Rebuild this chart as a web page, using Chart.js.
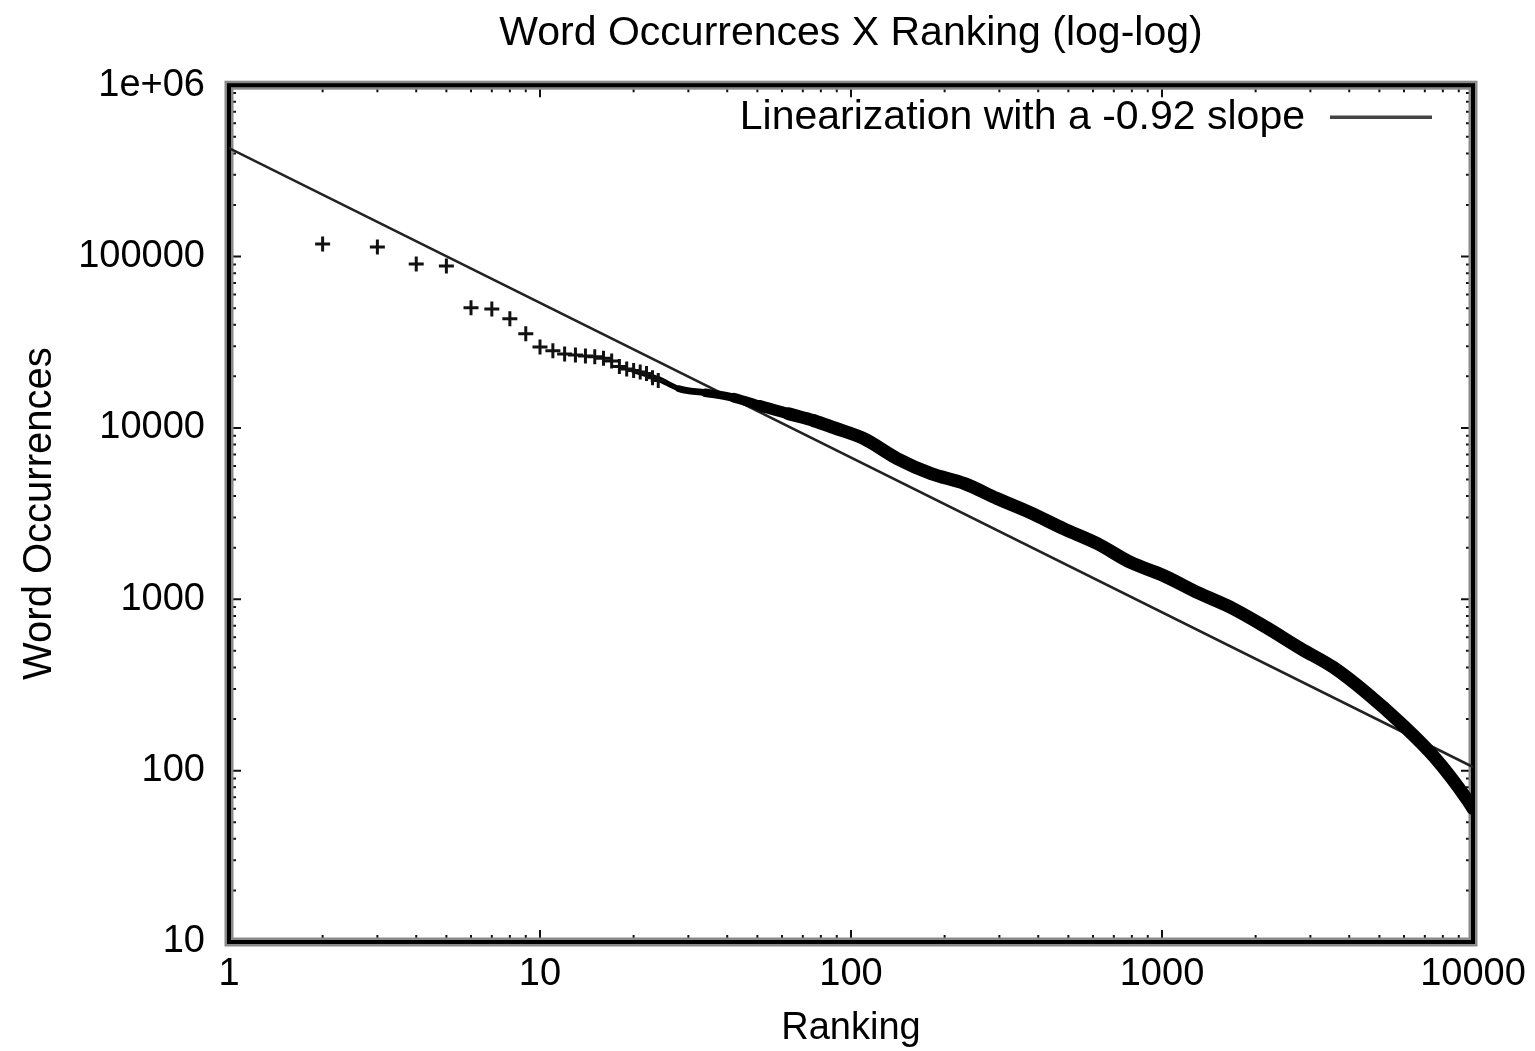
<!DOCTYPE html>
<html><head><meta charset="utf-8">
<script src="https://cdn.jsdelivr.net/npm/chart.js@4/dist/chart.umd.min.js"></script>
<style>html,body{margin:0;padding:0;background:#fff}#wrap{width:1535px;height:1051px;position:relative}canvas{display:block}</style>
</head><body><div id="wrap"><canvas id="c" width="1535" height="1051" style="width:1535px;height:1051px"></canvas></div>
<script>
const chartTitle = 'Word Occurrences X Ranking (log-log)';
const xAxisTitle = 'Ranking';
const yAxisTitle = 'Word Occurrences';
const fitLabel = 'Linearization with a -0.92 slope';

const xTickValues = [1, 10, 100, 1000, 10000];
const xTickLabels = ['1', '10', '100', '1000', '10000'];
const yTickValues = [10, 100, 1000, 10000, 100000, 1000000];
const yTickLabels = ['10', '100', '1000', '10000', '100000', '1e+06'];

// top-ranked words, drawn as individual "+" marks
const topRanks = [2, 3, 4, 5, 6, 7, 8, 9, 10, 11, 12, 13, 14, 15, 16, 17, 18, 19, 20, 21, 22, 23, 24];
const topOccurrences = [118400, 113700, 90600, 88200, 50200, 49500, 43300, 35400, 29700, 28200, 27000, 26600, 26300, 26000, 25500, 24600, 22800, 22100, 21600, 21200, 20800, 19600, 18900];

// dense tail where the "+" marks merge into a thick band
const bandRanks = [20, 24, 28, 34, 42, 51, 63, 76, 88, 110, 141, 181, 232, 295, 377, 482, 619, 793, 1010, 1320, 1690, 2165, 2785, 3560, 4570, 5860, 7510, 9620, 10000];
const bandOccurrences = [21540, 19350, 16920, 16040, 15000, 13470, 12100, 11020, 10030, 8650, 6615, 5410, 4730, 3870, 3205, 2585, 2115, 1640, 1376, 1081, 884, 685, 517, 400, 282, 189, 120, 67, 60];

// fitted straight line (log-log)
const fitRanks = [1, 10000];
const fitOccurrences = [430000, 105];

const FONT = "'Liberation Sans', Arial, Helvetica, sans-serif";

const toPts = (xs, ys) => xs.map((x, i) => ({x: x, y: ys[i]}));

const framePlugin = {
  id: 'gnuFrame',
  beforeDatasetsDraw(chart) {
    const {ctx, chartArea: a, scales} = chart;
    const xs = scales.x, ys = scales.y;
    ctx.save();
    ctx.strokeStyle = '#111';
    ctx.lineWidth = 2;
    ctx.beginPath();
    for (let d = 1; d <= 10000; d *= 10) {
      for (let m = 1; m <= 9; m++) {
        const v = d * m;
        if (v > 10000) break;
        const len = m === 1 ? 12 : 7;
        const px = xs.getPixelForValue(v);
        ctx.moveTo(px, a.bottom); ctx.lineTo(px, a.bottom - len);
        ctx.moveTo(px, a.top); ctx.lineTo(px, a.top + len);
      }
    }
    for (let d = 10; d <= 1000000; d *= 10) {
      for (let m = 1; m <= 9; m++) {
        const v = d * m;
        if (v > 1000000) break;
        const len = m === 1 ? 12 : 7;
        const py = ys.getPixelForValue(v);
        ctx.moveTo(a.left, py); ctx.lineTo(a.left + len, py);
        ctx.moveTo(a.right, py); ctx.lineTo(a.right - len, py);
      }
    }
    ctx.stroke();
    ctx.strokeStyle = '#8a8a8a';
    ctx.lineWidth = 9;
    ctx.strokeRect(a.left, a.top, a.right - a.left, a.bottom - a.top);
    ctx.strokeStyle = '#000';
    ctx.lineWidth = 4;
    ctx.strokeRect(a.left, a.top, a.right - a.left, a.bottom - a.top);
    ctx.restore();
  },
  afterDatasetsDraw(chart) {
    const {ctx, chartArea: a} = chart;
    const ds = chart.data.datasets[2];
    ctx.save();
    ctx.font = '41px ' + FONT;
    ctx.fillStyle = '#000';
    ctx.textAlign = 'right';
    ctx.textBaseline = 'middle';
    const y = a.top + 32;
    ctx.fillText(ds.label, a.right - 168, y);
    ctx.strokeStyle = '#444';
    ctx.lineWidth = 3.5;
    ctx.beginPath();
    ctx.moveTo(a.right - 143, y);
    ctx.lineTo(a.right - 41, y);
    ctx.stroke();
    ctx.restore();
  }
};

const bandWidth = c => {
  const lx = Math.log10((c.p0.parsed.x + c.p1.parsed.x) / 2);
  return Math.min(13, Math.max(5, 5 + 17 * (lx - 1.38)));
};

new Chart(document.getElementById('c'), {
  type: 'line',
  data: {
    datasets: [
      {
        label: 'Top ranks',
        data: toPts(topRanks, topOccurrences),
        showLine: false,
        pointStyle: 'cross',
        pointRadius: 7.5,
        pointBorderWidth: 3,
        borderColor: '#111',
        backgroundColor: '#111'
      },
      {
        label: 'Word occurrences',
        data: toPts(bandRanks, bandOccurrences),
        borderColor: '#000',
        backgroundColor: '#000',
        borderWidth: 13,
        borderCapStyle: 'round',
        borderJoinStyle: 'round',
        cubicInterpolationMode: 'monotone',
        pointRadius: 0,
        segment: {borderWidth: bandWidth}
      },
      {
        label: fitLabel,
        data: toPts(fitRanks, fitOccurrences),
        borderColor: '#222',
        backgroundColor: '#222',
        borderWidth: 2.5,
        pointRadius: 0
      }
    ]
  },
  options: {
    responsive: false,
    animation: false,
    devicePixelRatio: 1,
    layout: {padding: {left: 0, right: 62, top: 0, bottom: 0}},
    plugins: {
      legend: {display: false},
      tooltip: {enabled: false},
      title: {
        display: true,
        fullSize: false,
        text: chartTitle,
        color: '#000',
        font: {family: FONT, size: 41, weight: 'normal'},
        padding: {top: 9, bottom: 27}
      }
    },
    scales: {
      x: {
        type: 'logarithmic',
        min: 1, max: 10000,
        grid: {display: false},
        border: {display: false},
        afterBuildTicks: s => { s.ticks = xTickValues.map(v => ({value: v})); },
        afterFit: s => { s.height = 109; },
        ticks: {
          autoSkip: false, maxRotation: 0, padding: 2, color: '#000',
          font: {family: FONT, size: 38},
          callback: (v, i) => xTickLabels[i]
        },
        title: {display: true, text: xAxisTitle, color: '#000', font: {family: FONT, size: 38}, padding: {top: 0, bottom: 0}}
      },
      y: {
        type: 'logarithmic',
        min: 10, max: 1000000,
        grid: {display: false},
        border: {display: false},
        afterBuildTicks: s => { s.ticks = yTickValues.map(v => ({value: v})); },
        afterFit: s => { s.width = 229; },
        ticks: {
          autoSkip: false, padding: 16, color: '#000',
          font: {family: FONT, size: 38},
          callback: (v, i) => yTickLabels[i]
        },
        title: {display: true, text: yAxisTitle, color: '#000', font: {family: FONT, size: 40}, padding: {top: 16, bottom: 0}}
      }
    }
  },
  plugins: [framePlugin]
});
</script></body></html>
